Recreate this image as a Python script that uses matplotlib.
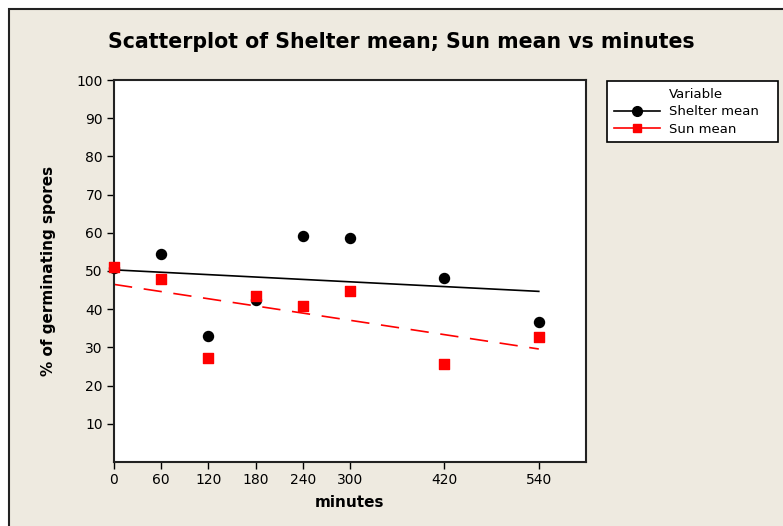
import numpy as np
import matplotlib.pyplot as plt
from matplotlib.lines import Line2D
from matplotlib.patches import Rectangle

# germination means at each exposure time
minutes = [0, 60, 120, 180, 240, 300, 420, 540]
shelter_mean = [50.8, 54.4, 33.0, 42.3, 59.1, 58.6, 48.2, 36.6]
sun_mean = [51.1, 47.9, 27.3, 43.5, 40.8, 44.8, 25.6, 32.7]
x_ticks = [0, 60, 120, 180, 240, 300, 420, 540]
y_ticks = [10, 20, 30, 40, 50, 60, 70, 80, 90, 100]

bg = '#eeeae0'

fig = plt.figure(figsize=(7.83, 5.26), dpi=100, facecolor='white')
# beige panel with a dark border, offset a little from the top-left corner
fig.patches.append(Rectangle((9 / 783, -0.05), 1.05, 1 - 9 / 526 + 0.05,
                             transform=fig.transFigure, facecolor=bg,
                             edgecolor='#222222', linewidth=1.5, zorder=-5))

ax = fig.add_axes([114 / 783, 64 / 526, 472 / 783, 382 / 526])
ax.set_facecolor('white')

x = np.array(minutes, dtype=float)
xs = np.array([x.min(), x.max()])

# least-squares fit lines for each series
b1, a1 = np.polyfit(x, shelter_mean, 1)
b2, a2 = np.polyfit(x, sun_mean, 1)
ax.plot(xs, a1 + b1 * xs, color='black', lw=1.2, zorder=2)
ax.plot(xs, a2 + b2 * xs, color='red', lw=1.2, dashes=(11, 7), zorder=2)

ax.scatter(minutes, shelter_mean, s=52, marker='o', color='black',
           zorder=3, clip_on=False)
ax.scatter(minutes, sun_mean, s=44, marker='s', color='red',
           zorder=4, clip_on=False)

ax.set_xlim(0, 600)
ax.set_ylim(0, 100)
ax.set_xticks(x_ticks)
ax.set_yticks(y_ticks)
ax.tick_params(direction='out', length=5, width=1, labelsize=10,
               colors='black', pad=3)
for s in ax.spines.values():
    s.set_linewidth(1.5)
    s.set_color('#222222')

ax.set_xlabel('minutes', fontsize=11, fontweight='bold', labelpad=6)
ax.set_ylabel('% of germinating spores', fontsize=11, fontweight='bold',
              labelpad=15)
fig.suptitle('Scatterplot of Shelter mean; Sun mean vs minutes',
             x=401 / 783, y=1 - 32 / 526, fontsize=14.8, fontweight='bold')

handles = [
    Line2D([], [], linestyle='none', label='Variable'),
    Line2D([], [], color='black', lw=1.2, marker='o', markersize=7,
           label='Shelter mean   '),
    Line2D([], [], color='red', lw=1.2, marker='s', markersize=6,
           label='Sun mean'),
]
leg = fig.legend(handles=handles, loc='upper left',
                 bbox_to_anchor=(607 / 783, 1 - 81 / 526),
                 fontsize=9.5, frameon=True, fancybox=False, edgecolor='black',
                 framealpha=1, borderpad=0.5, labelspacing=0.35,
                 handlelength=3.5, handletextpad=0.7, borderaxespad=0)
leg.get_frame().set_linewidth(1.2)

fig.savefig('out.png', dpi=100, facecolor=fig.get_facecolor())
